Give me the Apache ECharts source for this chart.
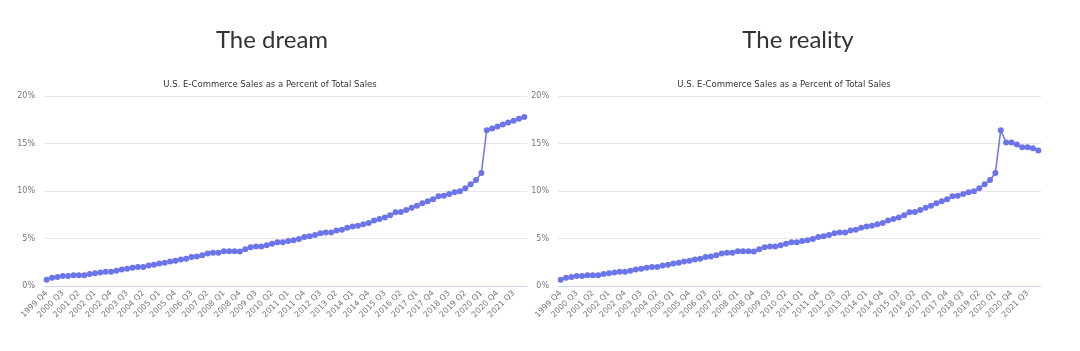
<!DOCTYPE html>
<html><head><meta charset="utf-8">
<script src="https://cdn.jsdelivr.net/npm/echarts@6/dist/echarts.min.js"></script>
<style>html,body{margin:0;padding:0;background:#fff}#c{width:1080px;height:351px}</style>
</head><body><div id="c"></div>
<script>
// Quarterly categories 1999 Q4 .. 2022 Q1
const categories = [];
for (let y = 1999; y <= 2022; y++) for (let q = 1; q <= 4; q++) {
  if ((y === 1999 && q < 4) || (y === 2022 && q > 1)) continue;
  categories.push(y + ' Q' + q);
}
// Shared history 1999 Q4 .. 2020 Q1 (percent)
const history = [0.66,0.87,0.94,1.05,1.05,1.12,1.12,1.12,1.26,1.33,1.43,1.5,1.5,1.6,1.75,1.82,1.92,2.0,2.0,2.17,
  2.24,2.38,2.45,2.59,2.66,2.8,2.87,3.04,3.11,3.25,3.43,3.5,3.5,3.67,3.67,3.67,3.64,3.88,4.09,4.16,
  4.16,4.3,4.44,4.6,4.6,4.75,4.82,4.96,5.17,5.24,5.38,5.56,5.63,5.63,5.84,5.91,6.12,6.26,6.33,6.5,
  6.64,6.89,7.06,7.2,7.45,7.76,7.8,8.0,8.25,8.46,8.7,8.92,9.13,9.44,9.51,9.69,9.86,9.97,10.3,10.7,
  11.15,11.9];
// 2020 Q2 .. 2022 Q1
const dreamTail = [16.4,16.57,16.78,17.0,17.2,17.4,17.6,17.8];
const realityTail = [16.4,15.1,15.1,14.9,14.6,14.6,14.5,14.27];
const dream = history.concat(dreamTail);
const reality = history.concat(realityTail);
const yTicks = [0, 5, 10, 15, 20];

const chart = echarts.init(document.getElementById('c'));
const lineColor = '#6b74e8';
function xAxis(i){return {type:'category',gridIndex:i,data:categories,
  axisLine:{lineStyle:{color:'#ccd6eb'}},axisTick:{show:false},
  axisLabel:{interval:2,rotate:45,fontSize:8,color:'#777',fontFamily:'DejaVu Sans',margin:6}};}
function yAxis(i){return {type:'value',gridIndex:i,min:yTicks[0],max:yTicks[yTicks.length-1],interval:5,
  axisLine:{show:false},axisTick:{show:false},
  splitLine:{lineStyle:{color:'#e6e6e6'}},
  axisLabel:{formatter:'{value}%',fontSize:8,color:'#777',fontFamily:'DejaVu Sans',margin:9}};}
function series(i,data){return {type:'line',xAxisIndex:i,yAxisIndex:i,data:data,
  symbol:'circle',symbolSize:6,showSymbol:true,showAllSymbol:true,
  lineStyle:{color:lineColor,width:1.5},itemStyle:{color:lineColor},animation:false};}
const bigTitle = {fontFamily:'Lato',fontWeight:'normal',fontSize:24,color:'#333'};
const subTitle = {fontFamily:'DejaVu Sans',fontWeight:'normal',fontSize:8.5,color:'#333'};
chart.setOption({
  animation:false,
  title:[
    {text:'The dream',left:267,top:23,textAlign:'center',textStyle:bigTitle},
    {text:'The reality',left:793,top:23,textAlign:'center',textStyle:bigTitle},
    {text:'U.S. E-Commerce Sales as a Percent of Total Sales',left:265,top:75,textAlign:'center',textStyle:subTitle},
    {text:'U.S. E-Commerce Sales as a Percent of Total Sales',left:779,top:75,textAlign:'center',textStyle:subTitle}
  ],
  grid:[{left:44,top:96,width:483,height:190},{left:558,top:96,width:483,height:190}],
  xAxis:[xAxis(0),xAxis(1)],
  yAxis:[yAxis(0),yAxis(1)],
  series:[series(0,dream),series(1,reality)]
});
</script></body></html>
